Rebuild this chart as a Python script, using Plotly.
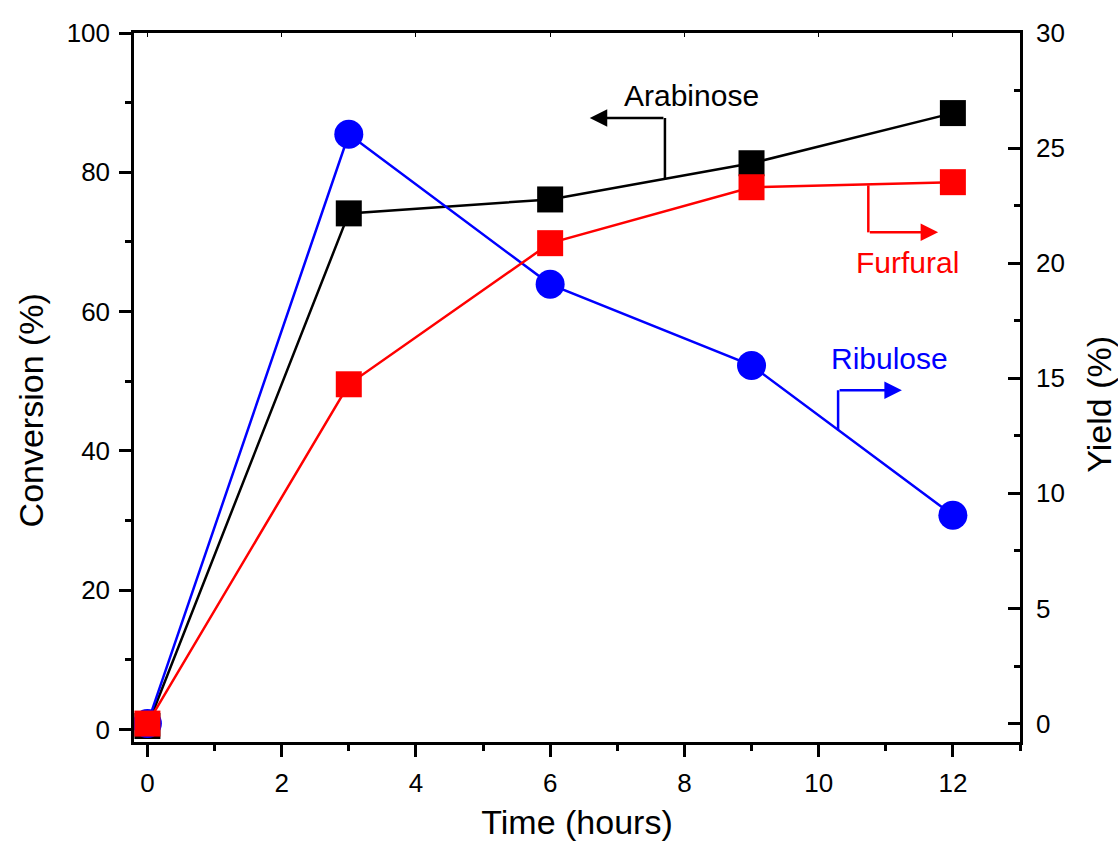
import plotly.graph_objects as go

time_h = [0, 3, 6, 9, 12]
arabinose_conv = [0.5, 74.1, 76.1, 81.3, 88.5]
furfural_yield = [0.0, 14.74, 20.87, 23.3, 23.52]
ribulose_yield = [0.0, 25.6, 19.08, 15.56, 9.05]

FONT = "Liberation Sans, Arial, sans-serif"

fig = go.Figure()
fig.add_trace(go.Scatter(x=time_h, y=arabinose_conv, mode="lines+markers", name="Arabinose",
                         line=dict(color="black", width=2.5),
                         marker=dict(symbol="square", size=26, color="black"), yaxis="y"))
fig.add_trace(go.Scatter(x=time_h, y=ribulose_yield, mode="lines+markers", name="Ribulose",
                         line=dict(color="blue", width=2.5),
                         marker=dict(symbol="circle", size=29, color="blue"), yaxis="y2"))
fig.add_trace(go.Scatter(x=time_h, y=furfural_yield, mode="lines+markers", name="Furfural",
                         line=dict(color="red", width=2.5),
                         marker=dict(symbol="square", size=26, color="red"), yaxis="y2"))

tickfont = dict(family=FONT, size=26, color="black")
titlefont = dict(family=FONT, size=34, color="black")

fig.update_layout(
    width=1118, height=848,
    margin=dict(l=134, r=98, t=33, b=106),
    paper_bgcolor="white", plot_bgcolor="white",
    showlegend=False,
    font=dict(family=FONT),
    xaxis=dict(range=[-0.2, 13], tickvals=[0, 2, 4, 6, 8, 10, 12], showgrid=False, zeroline=False,
               showline=True, linecolor="black", linewidth=2.5,
               ticks="outside", ticklen=12, tickwidth=2.5, tickcolor="black",
               minor=dict(dtick=1, tick0=0, ticks="outside", ticklen=6, tickwidth=2.5, tickcolor="black"),
               tickfont=tickfont, ticklabelstandoff=4,
               title=dict(text="Time (hours)", font=titlefont, standoff=14)),
    xaxis2=dict(range=[-0.2, 13], overlaying="x", side="top", showgrid=False, zeroline=False,
                showline=True, linecolor="black", linewidth=2.5, showticklabels=False,
                tickvals=[0, 2, 4, 6, 8, 10, 12], ticks="inside", ticklen=4, tickwidth=1, tickcolor="black"),
    yaxis=dict(range=[-1.8, 100], tickvals=[0, 20, 40, 60, 80, 100], showgrid=False, zeroline=False,
               showline=True, linecolor="black", linewidth=2.5,
               ticks="outside", ticklen=12, tickwidth=2.5, tickcolor="black",
               minor=dict(dtick=10, tick0=0, ticks="outside", ticklen=6, tickwidth=2.5, tickcolor="black"),
               tickfont=tickfont, ticklabelstandoff=4),
    yaxis2=dict(range=[-0.8, 30], tickvals=[0, 5, 10, 15, 20, 25, 30], overlaying="y", side="right",
                showgrid=False, zeroline=False, showline=True, linecolor="black", linewidth=2.5,
                ticks="inside", ticklen=12, tickwidth=2.5, tickcolor="black",
                minor=dict(dtick=2.5, tick0=0, ticks="inside", ticklen=6, tickwidth=2.5, tickcolor="black"),
                tickfont=tickfont, ticklabelstandoff=8),
)

# invisible trace so the top mirror axis is drawn
fig.add_trace(go.Scatter(x=[0], y=[0], xaxis="x2", yaxis="y", mode="markers",
                         marker=dict(opacity=0), hoverinfo="skip", showlegend=False))

# Annotation brackets
shapes = [
    dict(type="line", xref="x", yref="y", x0=7.71, y0=78.9, x1=7.71, y1=87.8,
         line=dict(color="black", width=2.5)),
    dict(type="line", xref="x", yref="y2", x0=10.74, y0=23.38, x1=10.74, y1=21.34,
         line=dict(color="red", width=2.5)),
    dict(type="line", xref="x", yref="y2", x0=10.29, y0=12.74, x1=10.29, y1=14.48,
         line=dict(color="blue", width=2.5)),
]
fig.update_layout(shapes=shapes)

anns = [
    dict(x=6.59, y=87.8, ax=7.71, ay=87.8, xref="x", yref="y", axref="x", ayref="y",
         text="", showarrow=True, arrowhead=2, arrowsize=1.4, arrowwidth=2.5, arrowcolor="black"),
    dict(x=11.78, y=21.34, ax=10.74, ay=21.34, xref="x", yref="y2", axref="x", ayref="y2",
         text="", showarrow=True, arrowhead=2, arrowsize=1.4, arrowwidth=2.5, arrowcolor="red"),
    dict(x=11.24, y=14.48, ax=10.29, ay=14.48, xref="x", yref="y2", axref="x", ayref="y2",
         text="", showarrow=True, arrowhead=2, arrowsize=1.4, arrowwidth=2.5, arrowcolor="blue"),
    dict(x=8.1, y=91.0, xref="x", yref="y", text="Arabinose", showarrow=False,
         font=dict(family=FONT, size=30, color="black")),
    dict(x=11.33, y=67.1, xref="x", yref="y", text="Furfural", showarrow=False,
         font=dict(family=FONT, size=30, color="red")),
    dict(x=11.06, y=15.87, xref="x", yref="y2", text="Ribulose", showarrow=False,
         font=dict(family=FONT, size=30, color="blue")),
    dict(x=-0.116, y=0.468, xref="paper", yref="paper", text="Conversion (%)", showarrow=False,
         textangle=-90, xanchor="center", yanchor="middle", font=titlefont),
    dict(x=1.089, y=0.477, xref="paper", yref="paper", text="Yield (%)", showarrow=False,
         textangle=-90, xanchor="center", yanchor="middle", font=titlefont),
]
fig.update_layout(annotations=anns)

fig.write_html("out.html")
